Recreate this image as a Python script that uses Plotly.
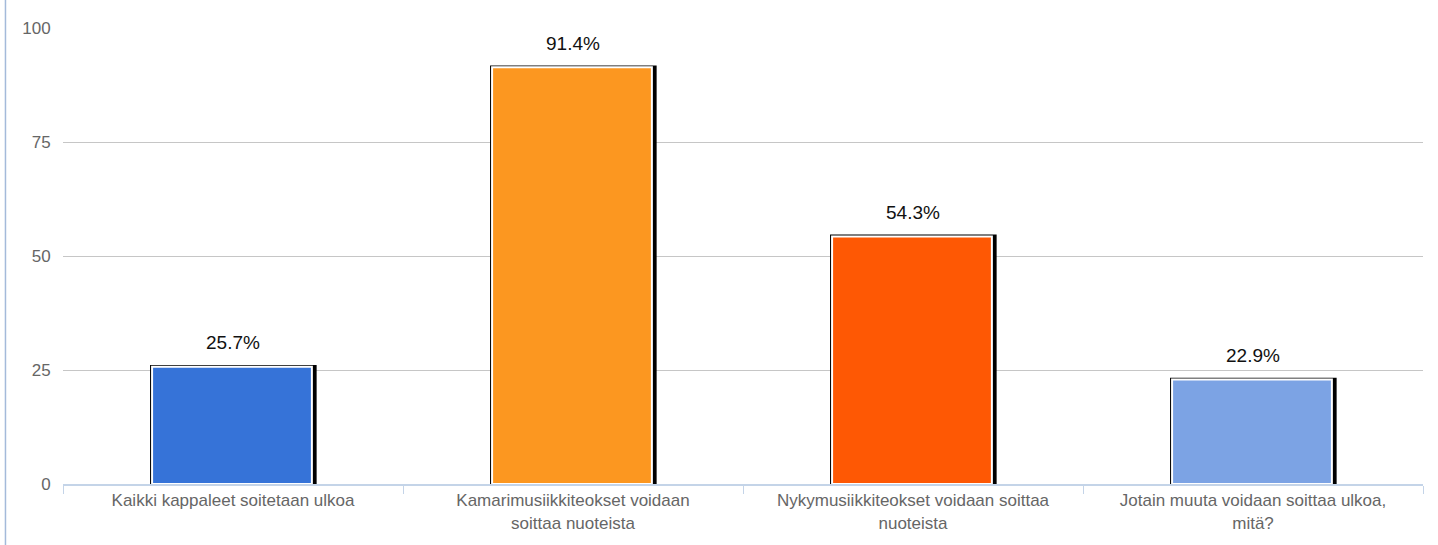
import plotly.graph_objects as go

categories = [
    "Kaikki kappaleet soitetaan ulkoa",
    "Kamarimusiikkiteokset voidaan soittaa nuoteista",
    "Nykymusiikkiteokset voidaan soittaa nuoteista",
    "Jotain muuta voidaan soittaa ulkoa, mitä?",
]
tick_labels = [
    "Kaikki kappaleet soitetaan ulkoa",
    "Kamarimusiikkiteokset voidaan<br>soittaa nuoteista",
    "Nykymusiikkiteokset voidaan soittaa<br>nuoteista",
    "Jotain muuta voidaan soittaa ulkoa,<br>mitä?",
]
values = [25.7, 91.4, 54.3, 22.9]
bar_colors = ["#3673D8", "#FC9720", "#FE5804", "#7CA3E4"]
y_ticks = [0, 25, 50, 75, 100]

FONT = "Liberation Sans, Arial, sans-serif"

fig = go.Figure()

# black shadow/outline bar behind
fig.add_trace(go.Bar(
    x=categories, y=[v + 0.4 for v in values],
    width=0.49, offset=-0.244,
    marker=dict(color="#000000", line=dict(width=0)),
    hoverinfo="skip", showlegend=False,
))
# coloured bar with white inner border
fig.add_trace(go.Bar(
    x=categories, y=values,
    width=0.47, offset=-0.238,
    marker=dict(color=bar_colors, line=dict(color="#FFFFFF", width=2)),
    showlegend=False,
))

for c, v in zip(categories, values):
    fig.add_annotation(
        x=c, y=v, text=f"{v:.1f}%", showarrow=False,
        yanchor="middle", yshift=24,
        font=dict(family=FONT, size=19, color="#111111"),
    )

# left frame line
fig.add_shape(type="line", xref="paper", yref="paper",
              x0=-0.0423, x1=-0.0423, y0=-0.14, y1=1.07,
              line=dict(color="#A4BADA", width=1.5))

fig.update_layout(
    width=1438, height=545,
    margin=dict(l=63, r=15, t=28, b=61),
    paper_bgcolor="#FFFFFF", plot_bgcolor="#FFFFFF",
    barmode="overlay",
    font=dict(family=FONT, size=17, color="#666666"),
    xaxis=dict(
        type="category", categoryorder="array", categoryarray=categories,
        tickmode="array", tickvals=categories, ticktext=tick_labels,
        range=[-0.5, 3.5],
        tickson="boundaries", ticks="outside", ticklen=8, tickcolor="#C4D4E8",
        showline=True, linecolor="#C4D4E8", linewidth=2,
        showgrid=False, zeroline=False,
        tickfont=dict(family=FONT, size=17, color="#666666"),
    ),
    yaxis=dict(
        range=[0, 100], tickmode="array", tickvals=y_ticks,
        showgrid=True, gridcolor="#C6C6C6", gridwidth=1,
        zeroline=False, showline=False,
        ticks="outside", ticklen=8, tickcolor="rgba(0,0,0,0)",
        tickfont=dict(family=FONT, size=17, color="#666666"),
    ),
)

fig.write_html(
    "out.html",
    config={"displayModeBar": False},
    post_script="document.body.style.margin='0';document.body.style.overflow='hidden';",
)
